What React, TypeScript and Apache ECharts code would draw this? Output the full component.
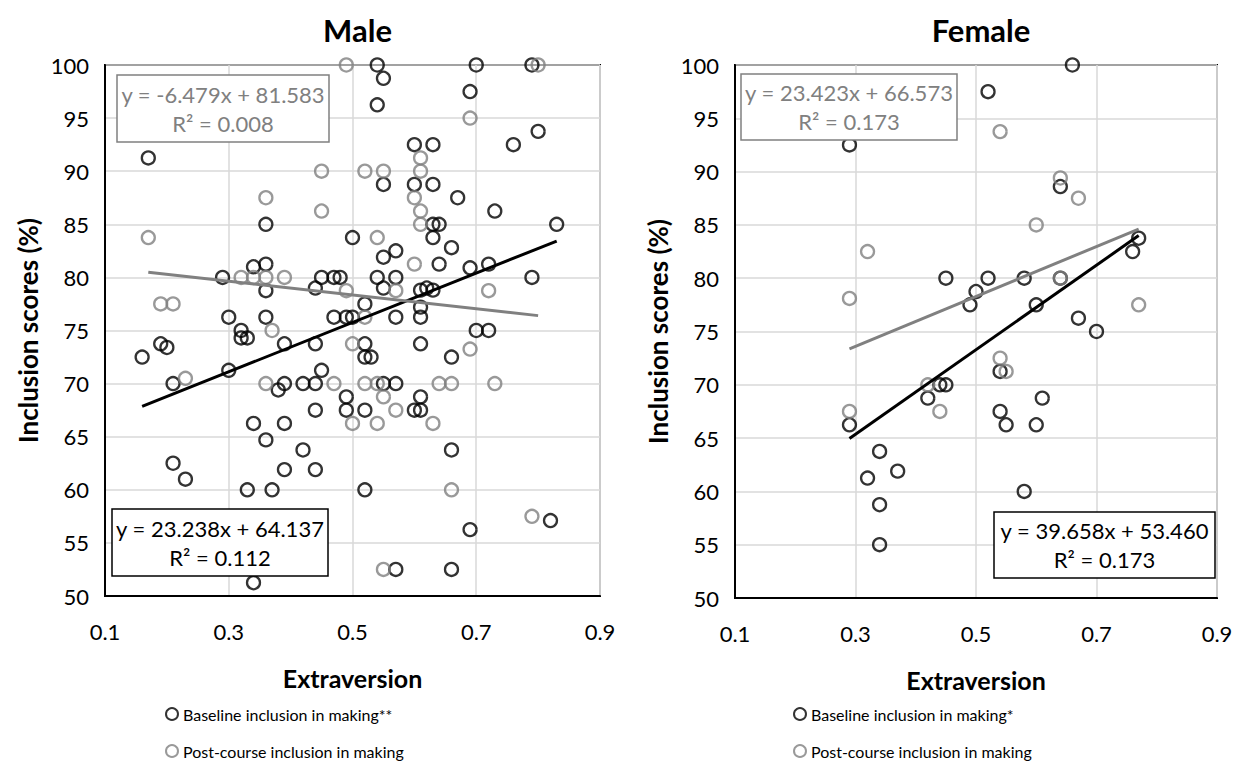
import React, { useEffect, useRef } from "react";
import * as echarts from "echarts";

// ---------- DATA ----------
const xTicks = [0.1, 0.3, 0.5, 0.7, 0.9];
const yTicks = [50, 55, 60, 65, 70, 75, 80, 85, 90, 95, 100];

// Male – baseline (black)
const maleBaseX = [
  0.17, 0.36, 0.34, 0.36, 0.29, 0.36, 0.30, 0.36, 0.32, 0.32, 0.33, 0.19, 0.20, 0.39, 0.16, 0.21,
  0.30, 0.38, 0.39, 0.42, 0.34, 0.39, 0.36, 0.42, 0.21, 0.23, 0.39, 0.33, 0.37, 0.34,
  0.54, 0.70, 0.79, 0.55, 0.54, 0.69, 0.80, 0.76, 0.60, 0.63, 0.55, 0.60, 0.63, 0.67, 0.73, 0.63,
  0.64, 0.83, 0.50, 0.63, 0.66, 0.57, 0.55, 0.64, 0.69, 0.72, 0.79, 0.44, 0.45, 0.47, 0.48, 0.54,
  0.57, 0.55, 0.61, 0.62, 0.63, 0.61, 0.52, 0.47, 0.49, 0.50, 0.57, 0.61, 0.70, 0.72, 0.44, 0.52,
  0.61, 0.52, 0.53, 0.66, 0.45, 0.44, 0.55, 0.57, 0.49, 0.61, 0.44, 0.49, 0.52, 0.60, 0.61, 0.66,
  0.44, 0.52, 0.82, 0.69, 0.57, 0.66,
];
const maleBaseY = [
  91.25, 85, 81, 81.25, 80, 78.75, 76.25, 76.25, 75, 74.3, 74.3, 73.75, 73.4, 73.75, 72.5, 70,
  71.25, 69.4, 70, 70, 66.25, 66.25, 64.7, 63.75, 62.5, 61, 61.9, 60, 60, 51.25,
  100, 100, 100, 98.75, 96.25, 97.5, 93.75, 92.5, 92.5, 92.5, 88.75, 88.75, 88.75, 87.5, 86.25, 85,
  85, 85, 83.75, 83.75, 82.8, 82.5, 81.9, 81.25, 80.9, 81.25, 80, 79, 80, 80, 80, 80,
  80, 79, 78.8, 79, 78.8, 77.2, 77.5, 76.25, 76.25, 76.25, 76.25, 76.25, 75, 75, 73.75, 73.75,
  73.75, 72.5, 72.5, 72.5, 71.25, 70, 70, 70, 68.75, 68.75, 67.5, 67.5, 67.5, 67.5, 67.5, 63.75,
  61.9, 60, 57.1, 56.25, 52.5, 52.5,
];

// Male – post-course (grey)
const malePostX = [
  0.36, 0.17, 0.32, 0.34, 0.36, 0.39, 0.19, 0.21, 0.37, 0.23, 0.36, 0.49, 0.80, 0.69, 0.61, 0.45,
  0.52, 0.55, 0.61, 0.60, 0.45, 0.61, 0.61, 0.54, 0.60, 0.49, 0.57, 0.72, 0.52, 0.50, 0.69, 0.47,
  0.52, 0.54, 0.64, 0.66, 0.73, 0.55, 0.57, 0.50, 0.54, 0.63, 0.66, 0.79, 0.55,
];
const malePostY = [
  87.5, 83.75, 80, 80, 80, 80, 77.5, 77.5, 75, 70.5, 70, 100, 100, 95, 91.25, 90,
  90, 90, 90, 87.5, 86.25, 86.25, 85, 83.75, 81.25, 78.75, 78.75, 78.75, 76.25, 73.75, 73.25, 70,
  70, 70, 70, 70, 70, 68.75, 67.5, 66.25, 66.25, 66.25, 60, 57.5, 52.5,
];

// Female – baseline (black)
const femaleBaseX = [
  0.29, 0.45, 0.49, 0.50, 0.66, 0.52, 0.64, 0.77, 0.76, 0.52, 0.58, 0.64, 0.60, 0.67, 0.70, 0.29,
  0.42, 0.44, 0.45, 0.34, 0.37, 0.32, 0.34, 0.34, 0.54, 0.61, 0.54, 0.55, 0.60, 0.58,
];
const femaleBaseY = [
  92.5, 80, 77.5, 78.75, 100, 97.5, 88.6, 83.75, 82.5, 80, 80, 80, 77.5, 76.25, 75, 66.25,
  68.75, 70, 70, 63.75, 61.9, 61.25, 58.75, 55, 71.25, 68.75, 67.5, 66.25, 66.25, 60,
];

// Female – post-course (grey)
const femalePostX = [0.32, 0.29, 0.54, 0.64, 0.67, 0.60, 0.64, 0.77, 0.29, 0.42, 0.44, 0.54, 0.55];
const femalePostY = [82.5, 78.1, 93.75, 89.4, 87.5, 85, 80, 77.5, 67.5, 70, 67.5, 72.5, 71.25];

// Linear fits [slope, intercept] and R²
const maleBaseFit = [23.238, 64.137];
const malePostFit = [-6.479, 81.583];
const femaleBaseFit = [39.658, 53.46];
const femalePostFit = [23.423, 66.573];
const maleBaseR2 = 0.112;
const malePostR2 = 0.008;
const femaleBaseR2 = 0.173;
const femalePostR2 = 0.173;

const titles = ["Male", "Female"];
const maleBaseName = "Baseline inclusion in making**";
const femaleBaseName = "Baseline inclusion in making*";
const postName = "Post-course inclusion in making";

// ---------- helpers ----------
const BLACK = "#000000";
const GREY = "#808080";
const FONT = "Lato, 'Noto Sans', sans-serif";

const pairs = (xs: number[], ys: number[]) => xs.map((x, i) => [x, ys[i]]);
const fitLine = (xs: number[], fit: number[]) => {
  const lo = Math.min(...xs);
  const hi = Math.max(...xs);
  return [
    [lo, fit[0] * lo + fit[1]],
    [hi, fit[0] * hi + fit[1]],
  ];
};
const eqText = (fit: number[], r2: number) => {
  const s = fit[1] >= 0 ? "+" : "-";
  return `y = ${fit[0].toFixed(3)}x ${s} ${Math.abs(fit[1]).toFixed(3)}\nR² = ${r2.toFixed(3)}`;
};

const scatter = (name: string, data: number[][], color: string, idx: number) => ({
  name,
  type: "scatter",
  xAxisIndex: idx,
  yAxisIndex: idx,
  data,
  symbol: "circle",
  symbolSize: 13,
  itemStyle: { color: "rgba(255,255,255,0)", borderColor: color, borderWidth: 2.3 },
  emphasis: { disabled: true },
  z: 3,
});
const trend = (data: number[][], color: string, idx: number) => ({
  type: "line",
  xAxisIndex: idx,
  yAxisIndex: idx,
  data,
  showSymbol: false,
  symbol: "none",
  lineStyle: { color, width: 3 },
  emphasis: { disabled: true },
  silent: true,
  z: 5,
});

const eqBox = (x: number, y: number, w: number, h: number, text: string, color: string) => [
  {
    type: "rect",
    z: 100,
    shape: { x, y, width: w, height: h },
    style: { fill: "#ffffff", stroke: color, lineWidth: 1.5 },
  },
  {
    type: "text",
    z: 101,
    x: x + w / 2,
    y: y + h / 2,
    style: {
      text,
      fill: color,
      font: `22px ${FONT}`,
      align: "center",
      verticalAlign: "middle",
      lineHeight: 29,
    },
  },
];

export default function App() {
  const ref = useRef<HTMLDivElement>(null);

  useEffect(() => {
    if (!ref.current) return;
    const chart = echarts.init(ref.current, null, { renderer: "svg" });

    const grids = [
      { left: 105, top: 65, width: 495, height: 531 },
      { left: 735, top: 65, width: 482, height: 533 },
    ];

    const xAxis = grids.map((_, i) => ({
      type: "value",
      gridIndex: i,
      min: xTicks[0],
      max: xTicks[xTicks.length - 1],
      interval: xTicks[1] - xTicks[0],
      name: "Extraversion",
      nameLocation: "middle",
      nameGap: 69,
      nameTextStyle: { fontFamily: FONT, fontWeight: "bold", fontSize: 25, color: BLACK },
      axisLine: { show: true, lineStyle: { color: BLACK, width: 2 } },
      axisTick: { show: false },
      axisLabel: {
        fontFamily: FONT,
        fontSize: 22,
        color: BLACK,
        margin: 24,
        formatter: (v: number) => v.toFixed(1),
      },
      splitLine: { show: true, lineStyle: { color: "#d9d9d9", width: 1.5 } },
    }));

    const yAxis = grids.map((_, i) => ({
      type: "value",
      gridIndex: i,
      min: yTicks[0],
      max: yTicks[yTicks.length - 1],
      interval: yTicks[1] - yTicks[0],
      name: "Inclusion scores (%)",
      nameLocation: "middle",
      nameGap: 64,
      nameRotate: 90,
      nameTextStyle: { fontFamily: FONT, fontWeight: "bold", fontSize: 26, color: BLACK },
      axisLine: { show: true, lineStyle: { color: BLACK, width: 2 } },
      axisTick: { show: false },
      axisLabel: { fontFamily: FONT, fontSize: 22, color: BLACK, margin: 16 },
      splitLine: { show: true, lineStyle: { color: "#d9d9d9", width: 1.5 } },
    }));

    chart.setOption({
      animation: false,
      backgroundColor: "#ffffff",
      title: titles.map((t, i) => ({
        text: t,
        left: grids[i].left + grids[i].width / 2,
        top: 9,
        textAlign: "center",
        textStyle: { fontFamily: FONT, fontWeight: "bold", fontSize: 31, color: BLACK },
      })),
      grid: grids.map((g) => ({
        ...g,
        show: true,
        borderColor: BLACK,
        borderWidth: 2,
        backgroundColor: "transparent",
      })),
      xAxis,
      yAxis,
      legend: [
        {
          data: [maleBaseName, postName],
          orient: "vertical",
          left: 160,
          top: 701,
          itemGap: 21,
          itemWidth: 12,
          itemHeight: 12,
          textStyle: { fontFamily: FONT, fontSize: 16, color: BLACK },
          selectedMode: false,
        },
        {
          data: [femaleBaseName, postName],
          orient: "vertical",
          left: 788,
          top: 701,
          itemGap: 21,
          itemWidth: 12,
          itemHeight: 12,
          textStyle: { fontFamily: FONT, fontSize: 16, color: BLACK },
          selectedMode: false,
        },
      ],
      series: [
        scatter(maleBaseName, pairs(maleBaseX, maleBaseY), BLACK, 0),
        scatter(postName, pairs(malePostX, malePostY), GREY, 0),
        trend(fitLine(maleBaseX, maleBaseFit), BLACK, 0),
        trend(fitLine(malePostX, malePostFit), GREY, 0),
        scatter(femaleBaseName, pairs(femaleBaseX, femaleBaseY), BLACK, 1),
        scatter(postName, pairs(femalePostX, femalePostY), GREY, 1),
        trend(fitLine(femaleBaseX, femaleBaseFit), BLACK, 1),
        trend(fitLine(femalePostX, femalePostFit), GREY, 1),
      ],
      graphic: [
        ...eqBox(117, 75, 212, 67, eqText(malePostFit, malePostR2), GREY),
        ...eqBox(112, 509, 216, 67, eqText(maleBaseFit, maleBaseR2), BLACK),
        ...eqBox(741, 74, 216, 66, eqText(femalePostFit, femalePostR2), GREY),
        ...eqBox(994, 512, 221, 66, eqText(femaleBaseFit, femaleBaseR2), BLACK),
      ],
    });

    return () => chart.dispose();
  }, []);

  return (
    <div
      ref={ref}
      style={{ position: "fixed", left: 0, top: 0, width: 1241, height: 766, background: "#fff" }}
    />
  );
}
